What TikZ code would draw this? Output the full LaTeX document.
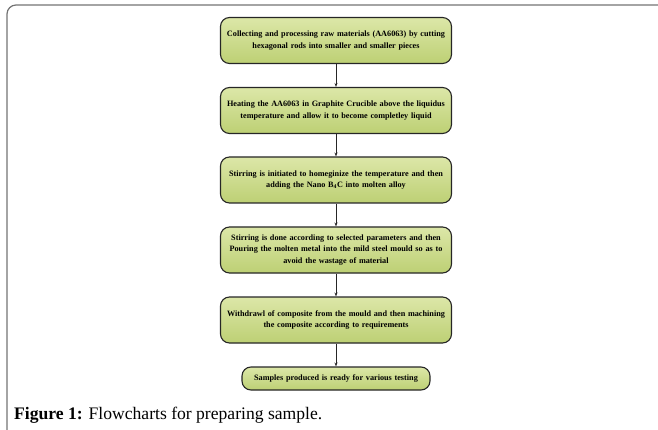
\documentclass[tikz,border=0pt]{standalone}
\usepackage{fontspec}
\setmainfont{Liberation Serif}
\usepackage{tikz}
\usetikzlibrary{positioning,arrows.meta}
\definecolor{boxtop}{HTML}{DCE7A8}
\definecolor{boxbot}{HTML}{BDD074}
\tikzset{
  stage/.style={rounded corners=9pt, draw=black!85, line width=1.1pt, top color=boxtop, bottom color=boxbot,
    minimum width=231pt, minimum height=46pt, text width=228pt, align=center, inner sep=1pt,
    font=\bfseries\fontsize{8.2}{11.6}\selectfont},
  endstage/.style={stage, minimum width=188pt, minimum height=23pt, text width=184pt},
  flow/.style={draw=black!85, line width=0.8pt, -{Stealth[length=4pt,width=3pt]}},
  frame/.style={draw=black!55, line width=1.2pt, rounded corners=9pt}
}
\begin{document}
\begin{tikzpicture}[x=1pt, y=-1pt]
        \useasboundingbox (0,0) rectangle (658,430);
        \draw[frame] (7,432) -- (7,5) -- (660,5);
        \node[stage] (s1) at (336,40.5) {Collecting and processing raw materials (AA6063) by cutting\\ hexagonal rods into smaller and smaller pieces};
        \node[stage] (s2) at (336,110.5) {Heating the AA6063 in Graphite Crucible above the liquidus\\ temperature and allow it to become completley liquid};
        \node[stage] (s3) at (336,180) {Stirring is initiated to homeginize the temperature and then\\ adding the Nano B$_\mathbf{4}$C into molten alloy};
        \node[stage] (s4) at (336,250) {Stirring is done according to selected parameters and then\\ Pouring the molten metal into the mild steel mould so as to\\ avoid the wastage of material};
        \node[stage] (s5) at (336,320) {Withdrawl of composite from the mould and then machining\\ the composite according to requirements};
        \node[endstage] (s6) at (336,378.5) {Samples produced is ready for various testing};
        \draw[flow] (s1)--(s2); \draw[flow] (s2)--(s3);
        \draw[flow] (s3)--(s4); \draw[flow] (s4)--(s5);
        \draw[flow] (s5)--(s6);
        \node[anchor=base west, inner sep=0pt, font=\fontsize{17.6}{20}\selectfont] (cap) at (14,419) {\textbf{Figure 1:} Flowcharts for preparing sample.};
      \end{tikzpicture}
\end{document}
